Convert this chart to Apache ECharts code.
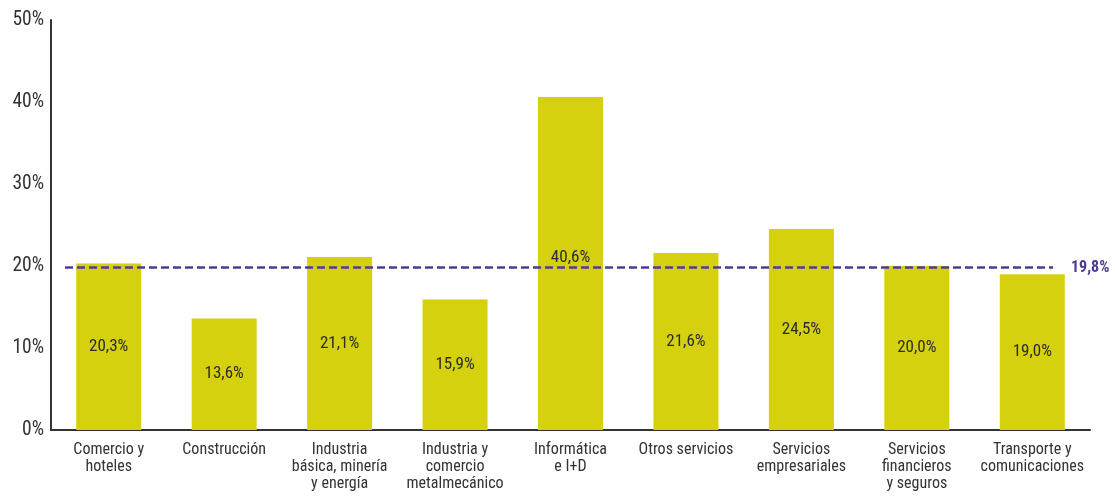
<!DOCTYPE html>
<html>
<head>
<meta charset="utf-8">
<script src="https://cdn.jsdelivr.net/npm/echarts@6/dist/echarts.min.js"></script>
<style>
  html, body { margin: 0; padding: 0; background: #fff; }
  #chart { width: 1115px; height: 497px; }
</style>
</head>
<body>
<div id="chart"></div>
<script>
// Sector names (line breaks as shown under the axis)
const categories = [
  'Comercio y\nhoteles',
  'Construcción',
  'Industria\nbásica, minería\ny energía',
  'Industria y\ncomercio\nmetalmecánico',
  'Informática\ne I+D',
  'Otros servicios',
  'Servicios\nempresariales',
  'Servicios\nfinancieros\ny seguros',
  'Transporte y\ncomunicaciones'
];
// Share per sector, in percent
const values = [20.3, 13.6, 21.1, 15.9, 40.6, 21.6, 24.5, 20.0, 19.0];
// Overall average, in percent
const averageValue = 19.8;
// Y axis tick values
const yTicks = [0, 10, 20, 30, 40, 50];

const FONT = '"Liberation Sans Narrow", "Roboto Condensed", "Liberation Sans", Arial, sans-serif';
const fmt = v => v.toFixed(1).replace('.', ',') + '%';

// Labels sitting on the average line are nudged up so the dashes stay clear
const barData = values.map(v => {
  const nearLine = Math.abs(v / 2 - averageValue) < 2;
  return nearLine ? { value: v, label: { offset: [0, -6] } } : v;
});

const chart = echarts.init(document.getElementById('chart'), null, { renderer: 'canvas' });
chart.setOption({
  animation: false,
  textStyle: { fontFamily: FONT },
  grid: { left: 51, right: 25, top: 20, bottom: 67, containLabel: false },
  xAxis: {
    type: 'category',
    data: categories,
    axisLine: { show: true, lineStyle: { color: '#333', width: 2 } },
    axisTick: { show: false },
    axisLabel: {
      interval: 0, margin: 11, color: '#333', fontSize: 16, lineHeight: 17,
      fontFamily: FONT
    }
  },
  yAxis: {
    type: 'value',
    min: yTicks[0],
    max: yTicks[yTicks.length - 1],
    interval: yTicks[1] - yTicks[0],
    axisLine: { show: true, lineStyle: { color: '#333', width: 2 } },
    axisTick: { show: false },
    splitLine: { show: false },
    axisLabel: {
      margin: 7, color: '#333', fontSize: 19.5, fontFamily: FONT,
      formatter: v => v + '%'
    }
  },
  series: [{
    type: 'bar',
    data: barData,
    barWidth: 65,
    itemStyle: { color: '#d5d10e' },
    label: {
      show: true, position: 'inside', color: '#2b2b2b', fontSize: 17,
      fontFamily: FONT, formatter: p => fmt(p.value)
    },
    markLine: {
      silent: true,
      symbol: 'none',
      lineStyle: { color: '#4f3b96', type: [8, 4], width: 2.5 },
      label: {
        show: true, position: 'end', distance: 18,
        color: '#4f3b96', fontSize: 16, fontWeight: 'bold', fontFamily: FONT,
        formatter: () => fmt(averageValue)
      },
      // the dashed average line runs from just inside the y axis to the last bar
      data: [[{ x: 65, yAxis: averageValue }, { x: 1053, yAxis: averageValue }]]
    }
  }]
});
</script>
</body>
</html>
